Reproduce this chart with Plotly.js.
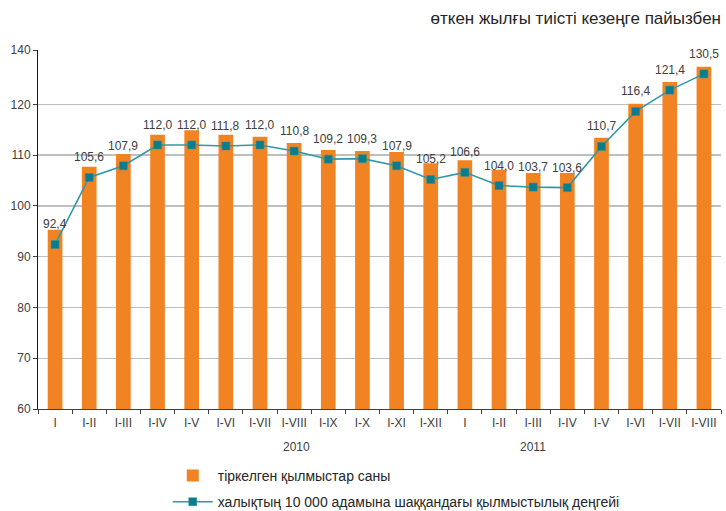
<!DOCTYPE html>
<html>
<head>
<meta charset="utf-8">
<script src="https://cdn.plot.ly/plotly-3.0.1.min.js"></script>
<style>html,body{margin:0;padding:0;background:#fff}#chart{width:726px;height:511px}</style>
</head>
<body>
<div id="chart"></div>
<script>
// Period labels (cumulative months)
const periodLabels = ['I','I-II','I-III','I-IV','I-V','I-VI','I-VII','I-VIII','I-IX','I-X','I-XI','I-XII',
                      'I','I-II','I-III','I-IV','I-V','I-VI','I-VII','I-VIII'];
const yearLabels = ['2010', '2011'];
// Registered crimes (bar heights, % of the same period last year)
const crimeCount = [95.3,107.7,110.2,114.0,114.9,114.0,113.6,112.4,111.0,110.8,110.6,108.4,
                    109.0,107.1,106.5,106.5,113.4,120.1,124.4,127.4];
// Crime rate per 10 000 people: printed labels
const rateLabels = ['92,4','105,6','107,9','112,0','112,0','111,8','112,0','110,8','109,2','109,3','107,9','105,2',
                    '106,6','104,0','103,7','103,6','110,7','116,4','121,4','130,5'];
// Crime rate: marker heights as drawn in the picture
const ratePlotted = [92.4,105.6,107.9,112.0,112.0,111.8,112.0,110.8,109.2,109.3,107.9,105.2,
                     106.6,104.0,103.7,103.6,111.7,118.6,122.8,126.0];
// Y axis ticks (top gridline is labelled 140 in the original)
const yTickVals = [60,70,80,90,100,110,120,130.7];
const yTickText = ['60','70','80','90','100','110','120','140'];

const idx = periodLabels.map((_, i) => i);
const font = 'Liberation Sans, Arial, sans-serif';
const textCol = '#404040';

const traces = [
  {
    type: 'bar', name: 'тіркелген қылмыстар саны',
    x: idx, y: crimeCount,
    marker: {color: '#F28322'},
    width: 0.43,
    legendgroup: 'a',
    hoverinfo: 'y'
  },
  {
    type: 'scatter', mode: 'lines+markers', name: 'халықтың 10 000 адамына шаққандағы қылмыстылық деңгейі',
    x: idx, y: ratePlotted,
    line: {color: '#3198a6', width: 1.6},
    marker: {symbol: 'square', size: 8, color: '#0b7c8b', line: {color: '#2c93a0', width: 0.5}},
    legendgroup: 'b',
    hoverinfo: 'y'
  }
];

const annotations = rateLabels.map((t, i) => ({
  x: idx[i], y: ratePlotted[i], xref: 'x', yref: 'y',
  text: t, showarrow: false, yshift: 20,
  font: {family: font, size: 12, color: textCol}
}));
annotations.push(
  {x: 0.3786, y: -0.106, xref: 'paper', yref: 'paper', yanchor: 'middle', text: yearLabels[0], showarrow: false,
   font: {family: font, size: 12, color: textCol}},
  {x: 0.746, y: -0.106, xref: 'paper', yref: 'paper', yanchor: 'middle', text: yearLabels[1], showarrow: false,
   font: {family: font, size: 12, color: textCol}}
);

const layout = {
  width: 726, height: 511,
  margin: {l: 38, r: 5, t: 50, b: 102},
  paper_bgcolor: '#fff', plot_bgcolor: '#fff',
  font: {family: font, size: 12, color: textCol},
  title: {
    text: 'өткен жылғы тиісті кезеңге пайызбен',
    xref: 'paper', x: 1, xanchor: 'right',
    yref: 'container', y: 0.965, yanchor: 'middle',
    font: {family: font, size: 17, color: '#262626'}
  },
  xaxis: {
    range: [-0.5, 19.5],
    tickvals: idx, ticktext: periodLabels,
    ticks: '', showgrid: false, zeroline: false,
    showline: true, linecolor: '#404040', linewidth: 1,
    tickfont: {family: font, size: 12, color: textCol},
    ticklabelstandoff: 3,
    minor: {tickvals: idx.concat([idx.length]).map(v => v - 0.5), ticks: 'outside', ticklen: 4, tickcolor: '#404040', showgrid: false},
    automargin: false,
    fixedrange: true
  },
  yaxis: {
    range: [60, 130.7],
    tickvals: yTickVals, ticktext: yTickText,
    ticks: 'outside', ticklen: 4, tickcolor: '#404040',
    showgrid: true, gridcolor: '#bfbfbf', gridwidth: 1.4,
    zeroline: false, showline: true, linecolor: '#1a1a1a', linewidth: 1,
    tickfont: {family: font, size: 12, color: textCol},
    automargin: false,
    fixedrange: true
  },
  bargap: 0.57,
  showlegend: true,
  legend: {
    orientation: 'v', x: 0.19, xanchor: 'left',
    yref: 'container', y: 0.1, yanchor: 'top',
    font: {family: font, size: 14, color: '#262626'},
    traceorder: 'grouped', tracegroupgap: 5, itemwidth: 40
  },
  annotations: annotations
};

Plotly.newPlot('chart', traces, layout, {displayModeBar: false, staticPlot: true});
</script>
</body>
</html>
